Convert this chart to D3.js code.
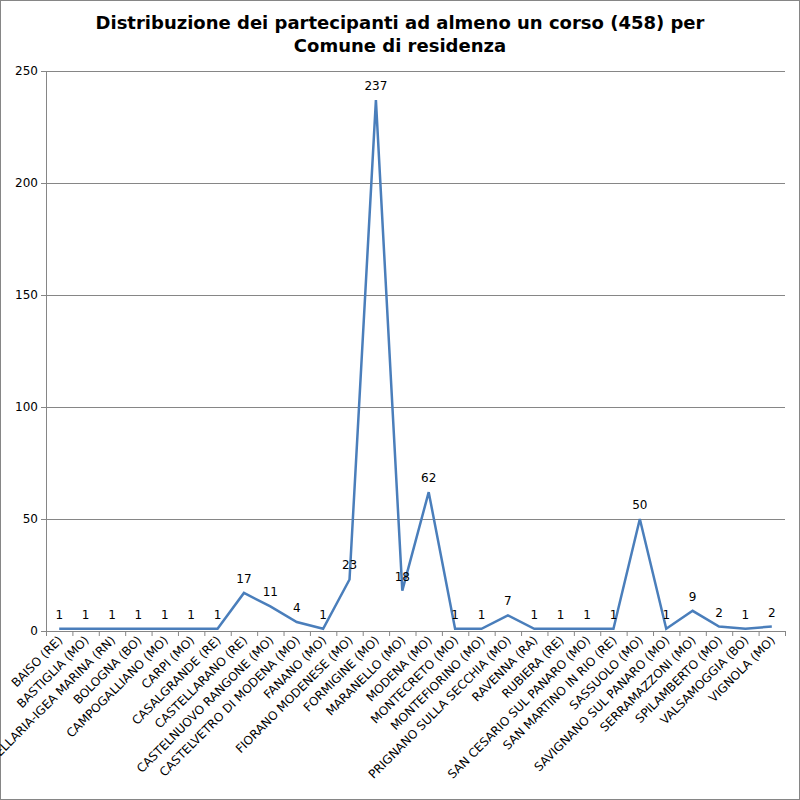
<!DOCTYPE html>
<html><head><meta charset="utf-8">
<script src="https://cdn.jsdelivr.net/npm/d3@7"></script>
<style>body{margin:0;background:#fff}svg{font-family:Verdana,"DejaVu Sans",sans-serif}</style>
</head><body><svg id="c" width="800" height="800"></svg>
<script>
const categories=["BAISO (RE)","BASTIGLIA (MO)","BELLARIA-IGEA MARINA (RN)","BOLOGNA (BO)","CAMPOGALLIANO (MO)","CARPI (MO)","CASALGRANDE (RE)","CASTELLARANO (RE)","CASTELNUOVO RANGONE (MO)","CASTELVETRO DI MODENA (MO)","FANANO (MO)","FIORANO MODENESE (MO)","FORMIGINE (MO)","MARANELLO (MO)","MODENA (MO)","MONTECRETO (MO)","MONTEFIORINO (MO)","PRIGNANO SULLA SECCHIA (MO)","RAVENNA (RA)","RUBIERA (RE)","SAN CESARIO SUL PANARO (MO)","SAN MARTINO IN RIO (RE)","SASSUOLO (MO)","SAVIGNANO SUL PANARO (MO)","SERRAMAZZONI (MO)","SPILAMBERTO (MO)","VALSAMOGGIA (BO)","VIGNOLA (MO)"];
const values=[1,1,1,1,1,1,1,17,11,4,1,23,237,18,62,1,1,7,1,1,1,1,50,1,9,2,1,2];
const yTicks=[0,50,100,150,200,250];
const titleLines=["Distribuzione dei partecipanti ad almeno un corso (458) per","Comune di residenza"];
const svg=d3.select("#c");
svg.append("rect").attr("x",0.5).attr("y",0.5).attr("width",799).attr("height",799).attr("fill","#fff").attr("stroke","#868686");
const L=46,R=785,T=71,B=631;
const x=d3.scaleBand().domain(categories).range([L,R]);
const y=d3.scaleLinear().domain([0,250]).range([B,T]);
svg.append("g").selectAll("line").data(yTicks).join("line").attr("x1",L).attr("x2",R).attr("y1",d=>y(d)+.5).attr("y2",d=>y(d)+.5).attr("stroke","#868686");
svg.append("line").attr("x1",L+.5).attr("x2",L+.5).attr("y1",T).attr("y2",B).attr("stroke","#868686");
svg.append("g").selectAll("line").data(yTicks).join("line").attr("x1",L-5).attr("x2",L).attr("y1",d=>y(d)+.5).attr("y2",d=>y(d)+.5).attr("stroke","#868686");
svg.append("g").selectAll("text").data(yTicks).join("text").attr("x",L-8).attr("y",d=>y(d)+4).attr("text-anchor","end").attr("font-size",12).text(d=>d);
svg.append("g").selectAll("line").data(categories.concat(["_end"])).join("line")
 .attr("x1",(d,i)=>L+i*x.step()+.5).attr("x2",(d,i)=>L+i*x.step()+.5).attr("y1",B).attr("y2",B+5).attr("stroke","#868686");
svg.append("g").selectAll("text").data(categories).join("text")
 .attr("transform",d=>`translate(${x(d)+x.bandwidth()/2+4},${B+10}) rotate(-45)`)
 .attr("text-anchor","end").attr("font-size",12).text(d=>d);
const cx=(d,i)=>x(categories[i])+x.bandwidth()/2;
svg.append("path").datum(values).attr("fill","none").attr("stroke","#4a7ebb").attr("stroke-width",2.5)
 .attr("d",d3.line().x((d,i)=>cx(d,i)).y(d=>y(d)));
svg.append("g").selectAll("text").data(values).join("text").attr("x",cx).attr("y",d=>y(d)-10)
 .attr("text-anchor","middle").attr("font-size",12).text(d=>d);
svg.append("g").selectAll("text").data(titleLines).join("text").attr("x",400).attr("y",(d,i)=>29+i*23)
 .attr("text-anchor","middle").attr("font-size",18).attr("font-weight","bold").text(d=>d);
</script></body></html>
